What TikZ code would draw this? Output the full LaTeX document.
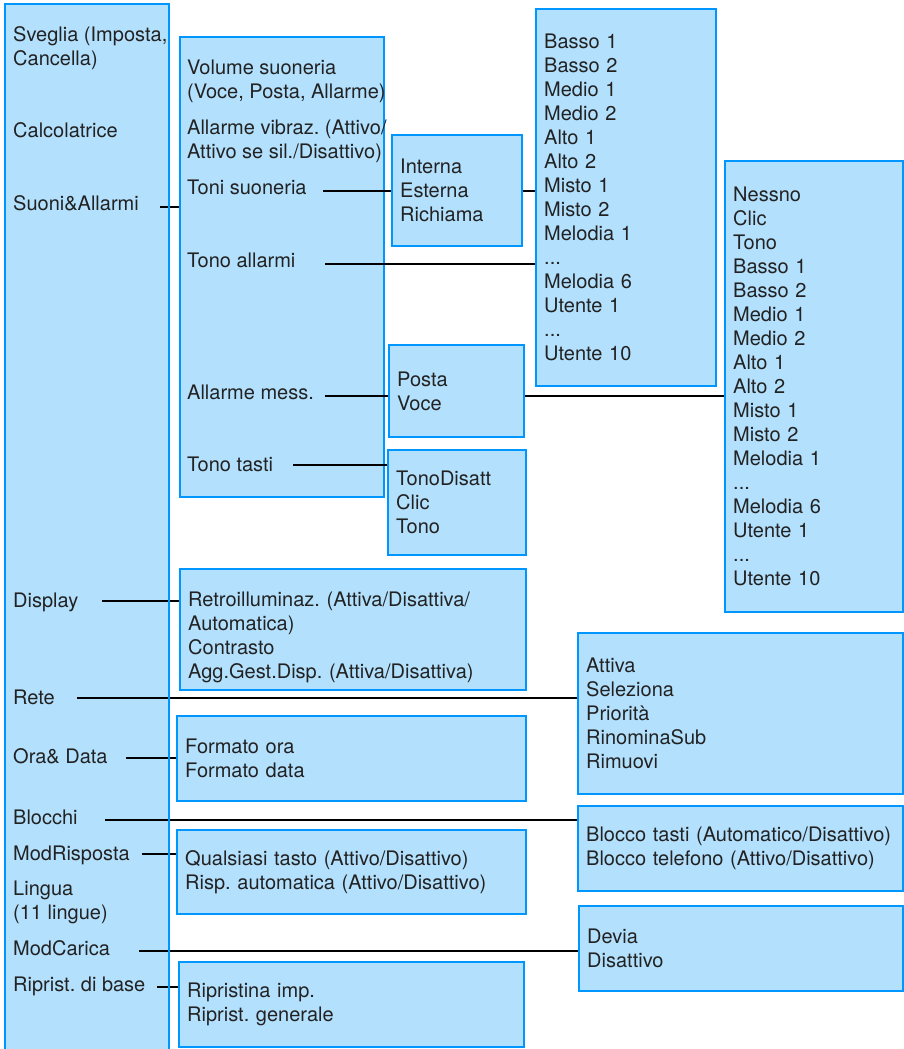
\documentclass[tikz,border=0pt]{standalone}
\usepackage{fontspec}
\setmainfont{TeX Gyre Heros}
\usetikzlibrary{positioning}
\frenchspacing

\definecolor{menufill}{RGB}{179,224,253}
\definecolor{menuline}{RGB}{0,150,255}
\definecolor{menutext}{RGB}{34,34,34}

\tikzset{
	menubox/.style={draw=menuline, fill=menufill, line width=2.4pt, anchor=north west,
		inner xsep=8pt, inner ysep=0pt, align=left, text=menutext},
	item/.style={anchor=base west, inner sep=0pt, align=left, text=menutext},
	link/.style={line width=2pt, black},
}

\begin{document}
\begin{tikzpicture}[x=1pt, y=-1pt, font=\fontsize{20}{24}\selectfont]

	\useasboundingbox (0,0) rectangle (904,1049);

	% main menu column
	\fill[menufill] (5,4) rectangle (169,1049);

	\node[item, anchor=west] (sveglia) at (13,48.5) {Sveglia (Imposta,\\Cancella)};
	\node[item] (calc) at (13,137) {Calcolatrice};
	\node[item] (suoni) at (13,210) {Suoni\&Allarmi};
	\node[item] (display) at (13,607) {Display};
	\node[item] (rete) at (13,704) {Rete};
	\node[item] (ora) at (13,763) {Ora\& Data};
	\node[item] (blocchi) at (13,824) {Blocchi};
	\node[item] (risposta) at (13,860) {ModRisposta};
	\node[item, anchor=west] (lingua) at (13,902) {Lingua\\(11 lingue)};
	\node[item] (carica) at (13,955) {ModCarica};
	\node[item] (base) at (13,991) {Riprist. di base};

	% Suoni&Allarmi
	\node[menubox, minimum width=203.5pt, minimum height=460pt] (suonibox) at (179,36) {};

	\node[item, anchor=west] (volume) at (187,81.5) {Volume suoneria\\(Voce, Posta, Allarme)};
	\node[item, anchor=west] (vibraz) at (187,141.5) {Allarme vibraz. (Attivo/\\Attivo se sil./Disattivo)};
	\node[item] (toni) at (187,194) {Toni suoneria};
	\node[item] (allarmi) at (187,267) {Tono allarmi};
	\node[item] (mess) at (187,399) {Allarme mess.};
	\node[item] (tasti) at (187,471) {Tono tasti};

	\node[menubox, minimum height=111pt, text width=114pt] (tonibox) at (391,134)
		{Interna\\Esterna\\Richiama};
	\node[menubox, minimum height=377pt, text width=164pt] (melodie) at (535,8)
		{Basso 1\\Basso 2\\Medio 1\\Medio 2\\Alto 1\\Alto 2\\Misto 1\\Misto 2\\Melodia 1\\...\\Melodia 6\\Utente 1\\...\\Utente 10};
	\node[menubox, minimum height=92pt, text width=119pt] (messbox) at (388,344)
		{Posta\\Voce};
	\node[menubox, minimum height=105pt, text width=122pt] (tastibox) at (387,449)
		{TonoDisatt\\Clic\\Tono};
	\node[menubox, minimum height=451pt, text width=162pt] (avvisi) at (724,160)
		{Nessno\\Clic\\Tono\\Basso 1\\Basso 2\\Medio 1\\Medio 2\\Alto 1\\Alto 2\\Misto 1\\Misto 2\\Melodia 1\\...\\Melodia 6\\Utente 1\\...\\Utente 10};

	% other submenus
	\node[menubox, minimum height=121pt, text width=330pt] (displaybox) at (179,568)
		{\rule{0pt}{30pt}Retroilluminaz. (Attiva/Disattiva/\\Automatica)\\Contrasto\\Agg.Gest.Disp. (Attiva/Disattiva)};
	\node[menubox, minimum height=161pt, text width=309pt] (retebox) at (577,632)
		{Attiva\\Seleziona\\Priorità\\RinominaSub\\Rimuovi};
	\node[menubox, minimum height=85pt, text width=333pt] (orabox) at (176,715)
		{Formato ora\\Formato data};
	\node[menubox, minimum height=85pt, text width=309pt] (blocchibox) at (577,805)
		{Blocco tasti (Automatico/Disattivo)\\Blocco telefono (Attivo/Disattivo)};
	\node[menubox, minimum height=84pt, text width=333pt] (rispostabox) at (176,829)
		{Qualsiasi tasto (Attivo/Disattivo)\\Risp. automatica (Attivo/Disattivo)};
	\node[menubox, minimum height=85pt, text width=308pt] (caricabox) at (578,905)
		{Devia\\Disattivo};
	\node[menubox, minimum height=85pt, text width=329pt] (basebox) at (178,961)
		{Ripristina imp.\\Riprist. generale};

	% connectors
	\coordinate (c-suoni) at (160,207);
	\coordinate (c-toni) at (323,191);
	\coordinate (c-allarmi) at (325,264);
	\coordinate (c-mess) at (325,396);
	\coordinate (c-tasti) at (293,465);
	\coordinate (c-display) at (102,601);
	\coordinate (c-rete) at (77,698);
	\coordinate (c-ora) at (126,758);
	\coordinate (c-blocchi) at (105,820);
	\coordinate (c-risposta) at (142,854);
	\coordinate (c-carica) at (139,951);
	\coordinate (c-base) at (157,987);

	\draw[link] (c-suoni) -- (suonibox.west |- c-suoni);
	\draw[link] (c-toni) -- (tonibox.west |- c-toni);
	\draw[link] (tonibox.east |- c-toni) -- (melodie.west |- c-toni);
	\draw[link] (c-allarmi) -- (melodie.west |- c-allarmi);
	\draw[link] (c-mess) -- (messbox.west |- c-mess);
	\draw[link] (messbox.east |- c-mess) -- (avvisi.west |- c-mess);
	\draw[link] (c-tasti) -- (tastibox.west |- c-tasti);
	\draw[link] (c-display) -- (displaybox.west |- c-display);
	\draw[link] (c-rete) -- (retebox.west |- c-rete);
	\draw[link] (c-ora) -- (orabox.west |- c-ora);
	\draw[link] (c-blocchi) -- (blocchibox.west |- c-blocchi);
	\draw[link] (c-risposta) -- (rispostabox.west |- c-risposta);
	\draw[link] (c-carica) -- (caricabox.west |- c-carica);
	\draw[link] (c-base) -- (basebox.west |- c-base);

	% border of the main column, open at the bottom
	\draw[menuline, line width=2.4pt] (5,1049) -- (5,4) -- (169,4) -- (169,1049);

\end{tikzpicture}
\end{document}
